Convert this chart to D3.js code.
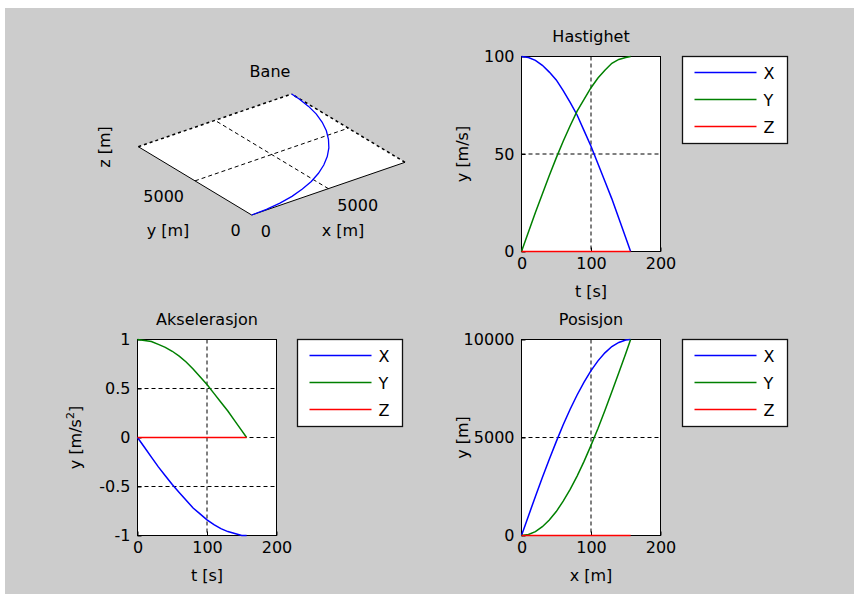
<!DOCTYPE html>
<html>
<head>
<meta charset="utf-8">
<script src="https://cdn.jsdelivr.net/npm/d3@7"></script>
<style>
  body { margin: 0; background: #ffffff; }
  text { font-family: "DejaVu Sans", sans-serif; font-size: 16px; fill: #000; }
</style>
</head>
<body>
<div id="container"></div>
<script>
// time samples (s)
let tid = [0, 10, 20, 30, 40, 50, 60, 70, 80, 90, 100, 110, 120, 130, 140, 150, 157];

// Hastighet (m/s)
let velX = [100, 99.5, 98, 95.5, 92, 88, 82.5, 76.5, 70, 62, 54, 45, 36, 27, 17, 7, 0];
let velY = [0, 10, 20, 29.5, 39, 48, 56.5, 64.5, 72, 78, 84, 89, 93, 96.5, 98.5, 99.5, 100];
let velZ = [0, 0, 0, 0, 0, 0, 0, 0, 0, 0, 0, 0, 0, 0, 0, 0, 0];

// Akselerasjon (m/s^2)
let accX = [0, -0.1, -0.2, -0.3, -0.39, -0.48, -0.56, -0.64, -0.72, -0.78, -0.84, -0.89, -0.93, -0.96, -0.98, -1, -1];
let accY = [1, 0.99, 0.98, 0.95, 0.92, 0.88, 0.83, 0.77, 0.7, 0.62, 0.54, 0.45, 0.36, 0.27, 0.17, 0.07, 0];
let accZ = [0, 0, 0, 0, 0, 0, 0, 0, 0, 0, 0, 0, 0, 0, 0, 0, 0];

// Posisjon (m)
let posX = [0, 1000, 1990, 2960, 3890, 4790, 5650, 6440, 7170, 7830, 8410, 8910, 9320, 9640, 9850, 9970, 10000];
let posY = [0, 50, 200, 450, 790, 1220, 1750, 2350, 3030, 3780, 4600, 5460, 6380, 7330, 8300, 9290, 10000];
let posZ = [0, 0, 0, 0, 0, 0, 0, 0, 0, 0, 0, 0, 0, 0, 0, 0, 0];

let legendNames = ["X", "Y", "Z"];
let lineColors = ["#0000ff", "#008000", "#ff0000"];

let tTicks = [0, 100, 200];
let velTicks = [0, 50, 100];
let accTicks = [-1, -0.5, 0, 0.5, 1];
let posTicks = [0, 5000, 10000];
let baneTicks = [0, 5000];

let w = 854;
let h = 594;

let viz = d3.select("#container")
  .append("svg")
    .attr("width", w)
    .attr("height", h)
;

// grey figure background
viz.append("rect")
  .attr("x", 5).attr("y", 8)
  .attr("width", w - 5).attr("height", h - 8)
  .attr("fill", "#cccccc");

function drawPanel(opt){
  let g = viz.append("g");
  let xScale = d3.scaleLinear().domain([0, 200]).range([opt.left, opt.right]);
  let yScale = d3.scaleLinear().domain(opt.yDomain).range([opt.bottom, opt.top]);

  g.append("rect")
    .attr("x", opt.left).attr("y", opt.top)
    .attr("width", opt.right - opt.left).attr("height", opt.bottom - opt.top)
    .attr("fill", "white").attr("stroke", "black");

  // dashed grid (inner ticks only)
  let xd = xScale.domain(), yd = yScale.domain();
  g.selectAll(".gx").data(tTicks.filter(d => d > xd[0] && d < xd[1])).enter().append("line")
    .attr("x1", d => xScale(d)).attr("x2", d => xScale(d))
    .attr("y1", opt.top).attr("y2", opt.bottom)
    .attr("stroke", "black").attr("stroke-dasharray", "4,3");
  g.selectAll(".gy").data(opt.yTicks.filter(d => d > yd[0] && d < yd[1])).enter().append("line")
    .attr("x1", opt.left).attr("x2", opt.right)
    .attr("y1", d => yScale(d)).attr("y2", d => yScale(d))
    .attr("stroke", "black").attr("stroke-dasharray", "4,3");

  let xAxis = d3.axisBottom(xScale).tickValues(tTicks).tickSize(-4).tickPadding(6).tickFormat(d3.format("d"));
  let xAxisGroup = g.append("g").attr("transform", "translate(0," + opt.bottom + ")").call(xAxis);
  let yAxis = d3.axisLeft(yScale).tickValues(opt.yTicks).tickSize(-4).tickPadding(7).tickFormat(d => String(d));
  let yAxisGroup = g.append("g").attr("transform", "translate(" + opt.left + ",0)").call(yAxis);
  [xAxisGroup, yAxisGroup].forEach(function(ax){
    ax.select(".domain").remove();
    ax.selectAll("line").attr("stroke", "black");
    ax.selectAll("text").attr("font-size", 16).attr("font-family", "DejaVu Sans, sans-serif").attr("fill", "black");
  });

  // series drawn over the box
  let line = d3.line().x((d, i) => xScale(tid[i])).y(d => yScale(d));
  opt.series.forEach(function(s, k){
    g.append("path").datum(s)
      .attr("d", line)
      .attr("fill", "none")
      .attr("stroke", lineColors[k])
      .attr("stroke-width", 1.5);
  });

  let cx = (opt.left + opt.right) / 2;
  g.append("text").attr("x", cx).attr("y", opt.top - 15)
    .attr("text-anchor", "middle").text(opt.title);
  g.append("text").attr("x", cx).attr("y", opt.bottom + 45)
    .attr("text-anchor", "middle").text(opt.xLabel);

  let yl = g.append("text")
    .attr("transform", "translate(" + opt.yLabelX + "," + (opt.top + opt.bottom) / 2 + ") rotate(-90)")
    .attr("text-anchor", "middle");
  yl.append("tspan").text(opt.yLabel);
  if (opt.yLabelSup) {
    yl.append("tspan").attr("font-size", 11).attr("dy", -7).text(opt.yLabelSup);
    yl.append("tspan").attr("dy", 7).text("]");
  }

  // legend
  let lg = viz.append("g").attr("transform", "translate(" + opt.legX + "," + opt.top + ")");
  lg.append("rect").attr("x", 0).attr("y", 0).attr("width", 105).attr("height", 87)
    .attr("fill", "white").attr("stroke", "#111").attr("stroke-width", 1.3);
  let rows = lg.selectAll(".row").data(legendNames).enter().append("g")
    .attr("transform", (d, i) => "translate(0," + (16 + i * 27) + ")");
  rows.append("line").attr("x1", 12).attr("x2", 74).attr("y1", 0).attr("y2", 0)
    .attr("stroke", (d, i) => lineColors[i]).attr("stroke-width", 1.5);
  rows.append("text").attr("x", 81).attr("y", 6).text(d => d);
}

drawPanel({
  left: 521.5, right: 660.5, top: 56.5, bottom: 251.5,
  yDomain: [0, 100], yTicks: velTicks,
  series: [velX, velY, velZ],
  title: "Hastighet", xLabel: "t [s]", yLabel: "y [m/s]", yLabelX: 468,
  legX: 682.5
});

drawPanel({
  left: 137.5, right: 276.5, top: 339.5, bottom: 535.5,
  yDomain: [-1, 1], yTicks: accTicks,
  series: [accX, accY, accZ],
  title: "Akselerasjon", xLabel: "t [s]", yLabel: "y [m/s", yLabelSup: "2", yLabelX: 81,
  legX: 297.5
});

drawPanel({
  left: 521.5, right: 660.5, top: 339.5, bottom: 535.5,
  yDomain: [0, 10000], yTicks: posTicks,
  series: [posX, posY, posZ],
  title: "Posisjon", xLabel: "x [m]", yLabel: "y [m]", yLabelX: 468,
  legX: 682.5
});

// Bane: flat 3D view, oblique projection built from linear scales
let origin = [251.7, 215];
let xToPx = d3.scaleLinear().domain([0, 10000]).range([0, 153.3]);
let xToPy = d3.scaleLinear().domain([0, 10000]).range([0, -52.7]);
let yToPx = d3.scaleLinear().domain([0, 10000]).range([0, -113.4]);
let yToPy = d3.scaleLinear().domain([0, 10000]).range([0, -68.3]);
function proj(x, y){
  return [origin[0] + xToPx(x) + yToPx(y), origin[1] + xToPy(x) + yToPy(y)];
}

let bane = viz.append("g");
let corners = [proj(0, 0), proj(10000, 0), proj(10000, 10000), proj(0, 10000)];
bane.append("polygon").attr("points", corners.map(p => p.join(",")).join(" ")).attr("fill", "white");

function seg(a, b, dash){
  let l = bane.append("line")
    .attr("x1", a[0]).attr("y1", a[1]).attr("x2", b[0]).attr("y2", b[1])
    .attr("stroke", "black");
  if (dash) l.attr("stroke-dasharray", dash);
  return l;
}
// grid at 5000
seg(proj(5000, 0), proj(5000, 10000), "4,3");
seg(proj(0, 5000), proj(10000, 5000), "4,3");
// far edges dotted, near edges solid
seg(proj(0, 10000), proj(10000, 10000), "3,3").attr("stroke-width", 1.5);
seg(proj(10000, 0), proj(10000, 10000), "3,3").attr("stroke-width", 1.5);
seg(proj(0, 0), proj(10000, 0));
seg(proj(0, 0), proj(0, 10000));

let baneLine = d3.line().x((d, i) => proj(d, posY[i])[0]).y((d, i) => proj(d, posY[i])[1]);
bane.append("path").datum(posX)
  .attr("d", baneLine)
  .attr("fill", "none").attr("stroke", lineColors[0]).attr("stroke-width", 1.3);

bane.selectAll(".xt").data(baneTicks).enter().append("text")
  .attr("x", d => proj(d, 0)[0] + 9).attr("y", d => proj(d, 0)[1] + 22)
  .text(d => d);
bane.selectAll(".yt").data(baneTicks).enter().append("text")
  .attr("text-anchor", "end")
  .attr("x", d => proj(0, d)[0] - 11).attr("y", d => proj(0, d)[1] + 21)
  .text(d => d);

bane.append("text").attr("x", 343).attr("y", 236).attr("text-anchor", "middle").text("x [m]");
bane.append("text").attr("x", 168).attr("y", 236).attr("text-anchor", "middle").text("y [m]");
bane.append("text").attr("transform", "translate(110,147) rotate(-90)").attr("text-anchor", "middle").text("z [m]");
bane.append("text").attr("x", 270).attr("y", 77).attr("text-anchor", "middle").text("Bane");
</script>
</body>
</html>
